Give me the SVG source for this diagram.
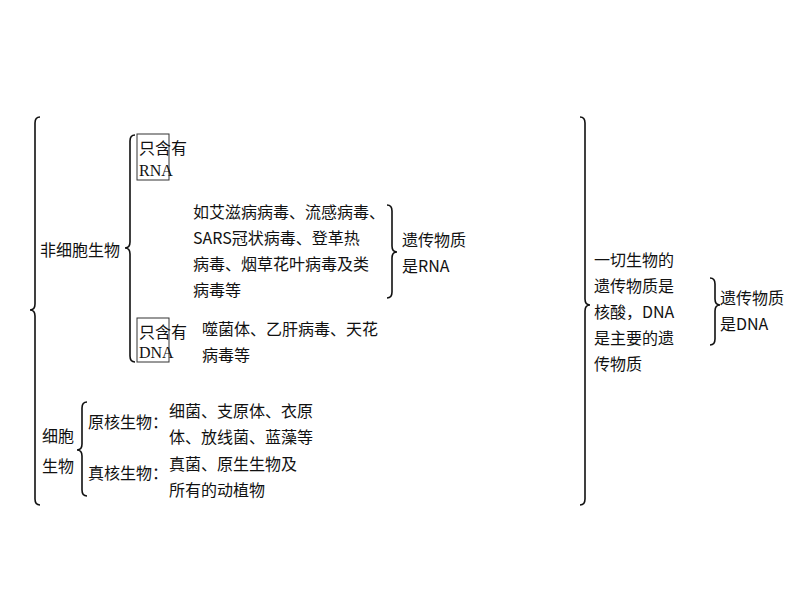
<svg xmlns="http://www.w3.org/2000/svg" width="800" height="600" viewBox="0 0 800 600">
<style>
text{font-family:"Noto Sans CJK SC","Liberation Sans",sans-serif;font-size:16px;fill:#111}
.b{fill:none;stroke:#111;stroke-width:1.6}
.box{fill:#fff;stroke:#333;stroke-width:1}
</style>
<rect width="800" height="600" fill="#fff"/>
<g id="connectors">
<path class="b" d="M40,117 Q35,117 35,123 L35,304 Q35,310 30,310 Q35,310 35,316 L35,499 Q35,505 40,505"/>
<path class="b" d="M135,135 Q130,135 130,141 L130,242 Q130,248 125,248 Q130,248 130,254 L130,356 Q130,362 135,362"/>
<path class="b" d="M387,205 Q392,205 392,211 L392,246 Q392,252 397,252 Q392,252 392,258 L392,292 Q392,298 387,298"/>
<path class="b" d="M87,402 Q82,402 82,408 L82,444 Q82,450 77,450 Q82,450 82,456 L82,490 Q82,496 87,496"/>
<path class="b" d="M580,117 Q585,117 585,123 L585,299 Q585,305 590,305 Q585,305 585,311 L585,499 Q585,505 580,505"/>
<path class="b" d="M710,278 Q715,278 715,284 L715,299 Q715,305 720,305 Q715,305 715,311 L715,339 Q715,345 710,345"/>
</g>
<g id="noncell"><text x="40" y="256">非细胞生物</text></g>
<g id="rna-box"><rect class="box" x="137" y="134" width="32" height="46"/><text x="139" y="154">只含有</text><text x="139" y="176" font-family="Liberation Serif" style="font-family:'Liberation Serif',serif">RNA</text></g>
<g id="rna-examples">
<text x="193" y="218">如艾滋病病毒、流感病毒、</text>
<text x="193" y="244">SARS冠状病毒、登革热</text>
<text x="193" y="270">病毒、烟草花叶病毒及类</text>
<text x="193" y="296">病毒等</text>
</g>
<g id="rna-result"><text x="402" y="246">遗传物质</text><text x="402" y="272">是RNA</text></g>
<g id="dna-box"><rect class="box" x="137" y="318" width="32" height="44"/><text x="139" y="338">只含有</text><text x="139" y="358" style="font-family:'Liberation Serif',serif">DNA</text></g>
<g id="dna-examples"><text x="202" y="335">噬菌体、乙肝病毒、天花</text><text x="202" y="361">病毒等</text></g>
<g id="cell"><text x="42" y="442">细胞</text><text x="42" y="472">生物</text></g>
<g id="prokaryote"><text x="88" y="428">原核生物：</text><text x="169" y="417">细菌、支原体、衣原</text><text x="169" y="443">体、放线菌、蓝藻等</text></g>
<g id="eukaryote"><text x="88" y="479">真核生物：</text><text x="169" y="470">真菌、原生生物及</text><text x="169" y="496">所有的动植物</text></g>
<g id="conclusion">
<text x="594" y="266">一切生物的</text>
<text x="594" y="292">遗传物质是</text>
<text x="594" y="318">核酸，DNA</text>
<text x="594" y="344">是主要的遗</text>
<text x="594" y="370">传物质</text>
</g>
<g id="dna-result"><text x="720" y="304">遗传物质</text><text x="720" y="330">是DNA</text></g>
</svg>
